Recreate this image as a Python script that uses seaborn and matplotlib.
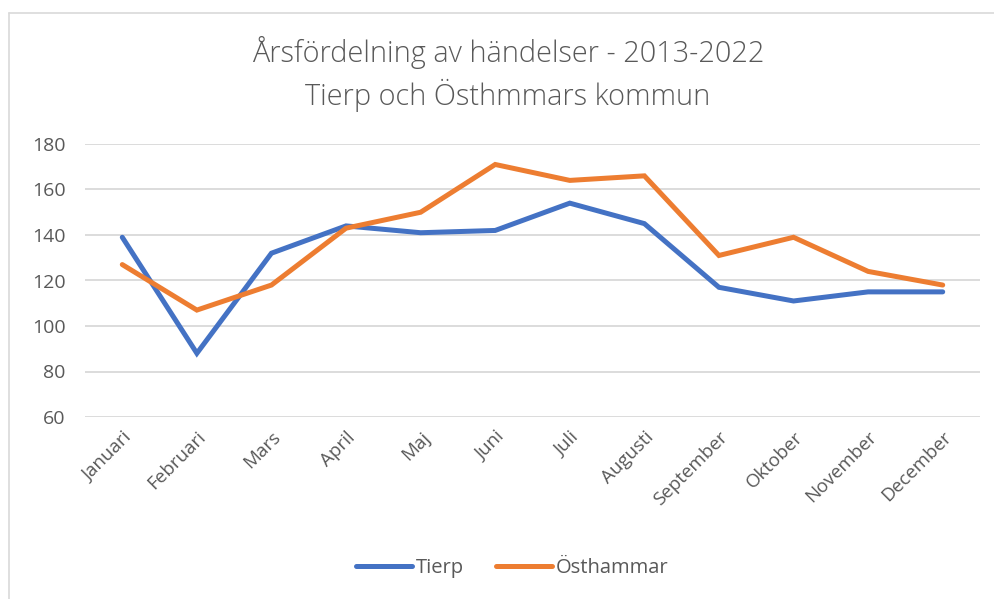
import matplotlib
matplotlib.use("Agg")
import matplotlib.pyplot as plt
import seaborn as sns
import pandas as pd
from matplotlib.lines import Line2D

months = ["Januari", "Februari", "Mars", "April", "Maj", "Juni", "Juli",
          "Augusti", "September", "Oktober", "November", "December"]
tierp = [139, 88, 132, 144, 141, 142, 154, 145, 117, 111, 115, 115]
osthammar = [127, 107, 118, 143, 150, 171, 164, 166, 131, 139, 124, 118]
series_names = ["Tierp", "Östhammar"]
yticks = [60, 80, 100, 120, 140, 160, 180]
title_lines = ["Årsfördelning av händelser - 2013-2022", "Tierp och Östhmmars kommun"]

sns.set_theme(style="white")
plt.rcParams['font.family'] = ['Open Sans', 'DejaVu Sans']

df = pd.DataFrame({
    "Månad": months * 2,
    "x": list(range(len(months))) * 2,
    "Antal": tierp + osthammar,
    "Serie": [series_names[0]] * len(months) + [series_names[1]] * len(months),
})

text_color = "#595959"
palette = {"Tierp": "#4472C4", "Östhammar": "#ED7D31"}

fig = plt.figure(figsize=(9.95, 5.99), dpi=100)
ax = fig.add_axes([85/995, 1 - 417/599, (980-85)/995, (417-144)/599])

sns.lineplot(data=df, x="x", y="Antal", hue="Serie", palette=palette,
             linewidth=3.6, ax=ax, legend=False, solid_capstyle="round",
             solid_joinstyle="miter")

ax.set_xlim(-0.5, len(months) - 0.5)
ax.set_ylim(60, 180)
ax.set_yticks(yticks)
ax.set_yticklabels([str(v) for v in yticks], fontsize=14, color=text_color)
ax.set_xticks(range(len(months)))
ax.set_xticklabels(months, rotation=45, ha="right", rotation_mode="anchor",
                   fontsize=13.5, color=text_color)
ax.tick_params(axis="y", length=0, pad=14)
ax.tick_params(axis="x", length=0, pad=8)
ax.set_xlabel("")
ax.set_ylabel("")
ax.grid(axis="y", color="#D9D9D9", linewidth=1.3)
ax.set_axisbelow(True)
for s in ax.spines.values():
    s.set_visible(False)

fig.text(508/995, 1 - 52/599, title_lines[0], ha="center", va="center",
         fontsize=20.8, color=text_color, fontweight="light")
fig.text(508/995, 1 - 95/599, title_lines[1], ha="center", va="center",
         fontsize=20.8, color=text_color, fontweight="light")

handles = [Line2D([0], [0], color=palette[n], linewidth=3.6, solid_capstyle="round")
           for n in series_names]
leg = fig.legend(handles, series_names, loc="center", bbox_to_anchor=(512/995, 1 - 568/599),
                 ncol=2, frameon=False, fontsize=14.5, handlelength=2.8,
                 handletextpad=0.15, columnspacing=1.6)
for t in leg.get_texts():
    t.set_color(text_color)

# chart area border (partially visible)
fig.add_artist(Line2D([9/995, 9/995], [0, 1 - 13/599], transform=fig.transFigure,
                      color="#D9D9D9", linewidth=1.2))
fig.add_artist(Line2D([9/995, 1], [1 - 13/599, 1 - 13/599], transform=fig.transFigure,
                      color="#D9D9D9", linewidth=1.2))

fig.savefig("out.png", dpi=100, facecolor="white")
